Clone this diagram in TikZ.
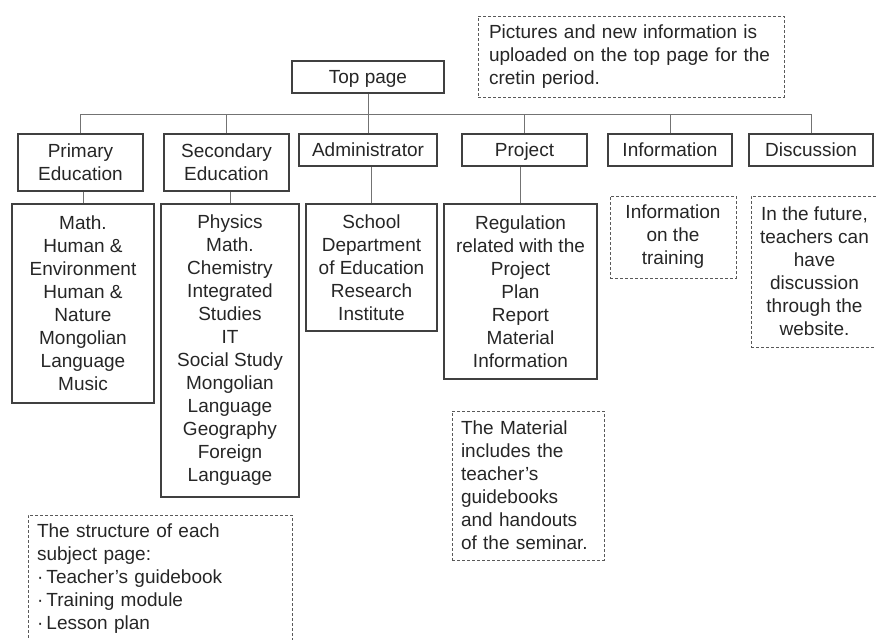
\documentclass[tikz,border=0pt]{standalone}
\usepackage{fontspec}
\setmainfont{Liberation Sans}
\begin{document}
\begin{tikzpicture}[x=1pt,y=-1pt,
    font=\fontsize{19}{23}\selectfont,
    box/.style={draw=black!75,line width=1.4pt,inner sep=0pt,align=center,text=black!85},
    head/.style={box,text height=13.5,text depth=0},
    note/.style={draw=black!65,line width=0.9pt,dash pattern=on 3pt off 2pt,inner ysep=0pt,text=black!85},
    link/.style={draw=black!55,line width=0.9pt}]
  \useasboundingbox (0,0) rectangle (876,640);
  \clip (0,0) rectangle (876,640);
  % top page and its note
  \node[head,minimum width=152,minimum height=32] (top) at (368,77) {Top page};
  \node[note,align=left,text width=284,inner xsep=11,minimum height=81] (topnote) at (631,56.5)
    {Pictures and new information is\\uploaded on the top page for the\\cretin period.};
  % headers
  \node[box,minimum width=125,minimum height=57] (prim) at (80.5,162.5) {Primary\\Education};
  \node[box,minimum width=125,minimum height=57] (sec) at (226.5,162.5) {Secondary\\Education};
  \node[head,minimum width=138,minimum height=32] (adm) at (368,150) {Administrator};
  \node[head,minimum width=125,minimum height=32] (proj) at (524.5,150) {Project};
  \node[head,minimum width=124,minimum height=32] (info) at (670,150) {Information};
  \node[head,minimum width=124,minimum height=32] (disc) at (811,150) {Discussion};
  % contents
  \node[box,minimum width=142,minimum height=199] (prim-sub) at (83,303.5)
    {Math.\\Human \&\\Environment\\Human \&\\Nature\\Mongolian\\Language\\Music};
  \node[box,minimum width=138,minimum height=293] (sec-sub) at (230,350.5)
    {Physics\\Math.\\Chemistry\\Integrated\\Studies\\IT\\Social Study\\Mongolian\\Language\\Geography\\Foreign\\Language};
  \node[box,minimum width=131,minimum height=127] (adm-sub) at (371.5,267.5)
    {School\\Department\\of Education\\Research\\Institute};
  \node[box,minimum width=153,minimum height=175] (proj-sub) at (520.5,291.5)
    {Regulation\\related with the\\Project\\Plan\\Report\\Material\\Information};
  \node[note,align=center,inner xsep=0pt,minimum width=126,minimum height=82] (infonote) at (673,237)
    {Information\\on the\\training};
  \node[note,align=center,inner xsep=0pt,minimum width=127,minimum height=151] (discnote) at (814.5,271.5)
    {In the future,\\teachers can\\have\\discussion\\through the\\website.};
  \node[note,align=left,text width=134,inner xsep=9,minimum height=149] (matnote) at (528,485.5)
    {The Material\\includes the\\teacher's\\guidebooks\\and handouts\\of the seminar.};
  \node[note,align=left,text width=246,inner xsep=9,minimum height=127] (structnote) at (160,578.5)
    {The structure of each\\subject page:\\·\,Teacher's guidebook\\·\,Training module\\·\,Lesson plan};
  % connectors
  \coordinate (bus) at (0,114);
  \draw[link] (top.south) -- (top.south |- bus);
  \draw[link] (prim.north |- bus) -- (disc.north |- bus);
  \foreach \n in {prim,sec,adm,proj,info,disc}
    \draw[link] (\n.north) -- (\n.north |- bus);
  \foreach \n in {prim,sec,adm,proj}
    \draw[link] (\n-sub.north) -- (\n-sub.north |- \n.south);
\end{tikzpicture}
\end{document}
